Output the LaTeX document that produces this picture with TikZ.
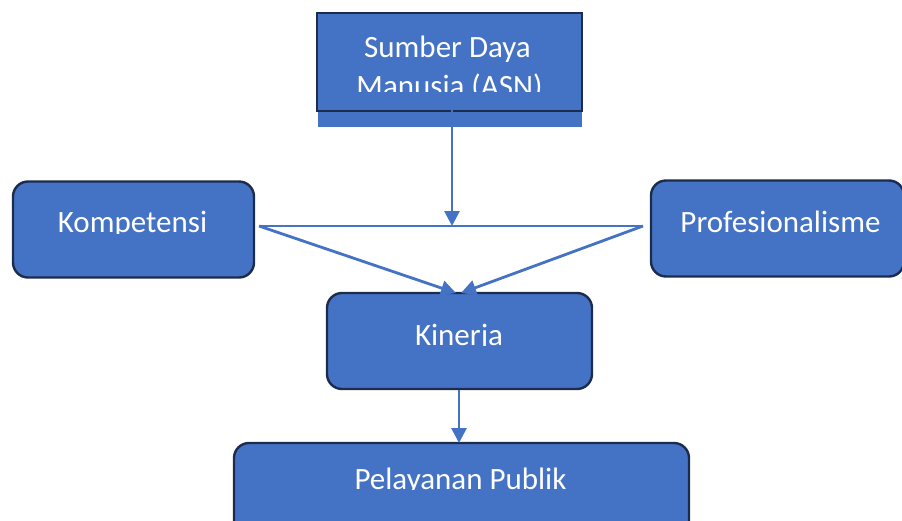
\documentclass[tikz,border=0pt]{standalone}
\usepackage{fontspec}
\setmainfont{Carlito}
\usetikzlibrary{arrows.meta}
\definecolor{boxblue}{HTML}{4472C4}
\definecolor{boxedge}{HTML}{1C2C4C}
\tikzset{
  rbox/.style={draw=boxedge, line width=2.4pt, fill=boxblue, rounded corners=15pt, inner sep=0pt},
  sbox/.style={draw=boxedge, line width=2.4pt, fill=boxblue, inner sep=0pt},
  lbl/.style={text=white, font=\fontsize{31}{38}\selectfont, inner sep=0pt, anchor=base},
  conn/.style={draw=boxblue, line width=2.8pt},
  tip/.style={-{Triangle[length=15pt,width=15pt]}},
  hline/.style={draw=boxblue, line width=2pt}
}
\begin{document}
\begin{tikzpicture}[x=1pt,y=-1pt]
\useasboundingbox (0,0) rectangle (902,520);
% strip under top box
\fill[boxblue] (318,111) rectangle (582,127);
% boxes
\node[sbox, minimum width=265pt, minimum height=98pt] (sdm) at (449.5,62) {};
\node[rbox, minimum width=241pt, minimum height=96pt] (kom) at (133.5,229.5) {};
\node[rbox, minimum width=253pt, minimum height=96pt] (pro) at (777.5,228.5) {};
\node[rbox, minimum width=265pt, minimum height=96pt] (kin) at (459.5,341) {};
\node[rbox, minimum width=455pt, minimum height=96pt] (pel) at (461.5,491) {};
% clipped labels
\begin{scope}
  \clip (318,14) rectangle (582,91);
  \node[lbl] (sdmA) at (447.5,57) {Sumber Daya};
  \node[lbl] (sdmB) at (449.5,96) {Manusia (ASN)};
\end{scope}
\begin{scope}
  \clip (14,182) rectangle (254,233);
  \node[lbl] (komT) at (132.5,232.7) {Kompetensi};
\end{scope}
\begin{scope}
  \clip (652,182) rectangle (902,233);
  \node[lbl] (proT) at (780.5,232) {Profesionalisme};
\end{scope}
\begin{scope}
  \clip (328,294) rectangle (592,345);
  \node[lbl] (kinT) at (459,345) {Kinerja};
\end{scope}
\begin{scope}
  \clip (236,444) rectangle (688,489);
  \node[lbl] (pelT) at (460.5,489) {Pelayanan Publik};
\end{scope}
% connectors
\coordinate (top) at (452,110);
\coordinate (hmid) at (452,226);
\coordinate (hl) at (259,226);
\coordinate (hr) at (643,226);
\coordinate (kinL) at (456,293);
\coordinate (kinR) at (461,293);
\draw[hline] (hl) -- (hr);
\draw[conn, tip] (top) -- (hmid);
\draw[conn, tip] (hl) -- (kinL);
\draw[conn, tip] (hr) -- (kinR);
\draw[conn, tip] (kin.south -| 459,0) -- (459,443);
\end{tikzpicture}
\end{document}
